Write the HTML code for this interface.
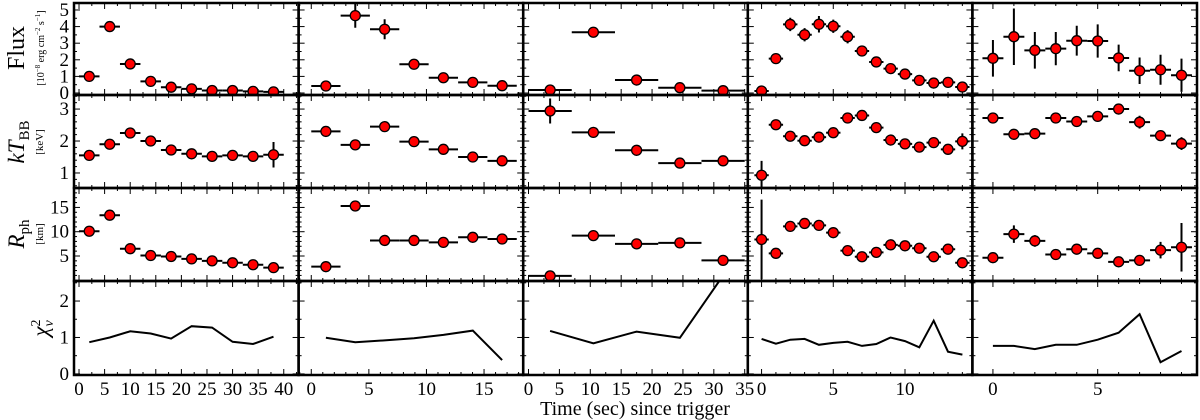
<!DOCTYPE html>
<html><head><meta charset="utf-8"><style>
body{margin:0;background:#fff}
svg{display:block}
text{font-family:"Liberation Serif","DejaVu Serif",serif}
</style></head><body>
<svg id="c" width="1200" height="420" viewBox="0 0 1200 420" xmlns="http://www.w3.org/2000/svg"></svg>
<script>
// ---- data ----
const col1Time=[2,6,10,14,18,22,26,30,34,38];
const col1Flux=[1.0,4.0,1.75,0.7,0.35,0.25,0.15,0.15,0.1,0.07];
const col1FluxErr=[0.05,0.1,0.08,0.05,0.04,0.03,0.03,0.03,0.03,0.03];
const col1kT=[1.55,1.9,2.25,2.0,1.72,1.6,1.52,1.55,1.52,1.57];
const col1kTErr=[0.05,0.05,0.05,0.05,0.05,0.06,0.06,0.08,0.08,0.4];
const col1R=[10.1,13.4,6.5,5.1,4.9,4.4,4.0,3.6,3.2,2.6];
const col1RErr=[0.3,0.3,0.2,0.2,0.2,0.2,0.2,0.2,0.3,0.3];
const col1Chi=[0.87,1.0,1.17,1.11,0.97,1.31,1.27,0.88,0.82,1.02];

const col2Time=[1.27,3.82,6.37,8.92,11.47,14.02,16.57];
const col2Flux=[0.42,4.66,3.84,1.73,0.92,0.64,0.44];
const col2FluxErr=[0.05,0.73,0.6,0.15,0.08,0.06,0.05];
const col2kT=[2.3,1.88,2.45,1.98,1.74,1.5,1.38];
const col2kTErr=[0.15,0.05,0.06,0.06,0.06,0.06,0.06];
const col2R=[2.8,15.3,8.2,8.2,7.8,8.85,8.5];
const col2RErr=[0.3,0.4,0.3,0.3,0.3,0.7,0.7];
const col2Chi=[0.99,0.87,0.92,0.98,1.07,1.19,0.38];

const col3Time=[3.5,10.5,17.5,24.5,31.5];
const col3Flux=[0.18,3.66,0.78,0.32,0.14];
const col3FluxErr=[0.05,0.2,0.05,0.05,0.05];
const col3kT=[2.94,2.27,1.71,1.31,1.38];
const col3kTErr=[0.39,0.05,0.05,0.05,0.07];
const col3R=[0.9,9.2,7.5,7.7,4.1];
const col3RErr=[0.3,0.4,0.3,0.6,0.9];
const col3Chi=[1.18,0.84,1.16,0.99,2.7];

const col4Time=[0,1,2,3,4,5,6,7,8,9,10,11,12,13,14];
const col4Flux=[0.12,2.07,4.13,3.51,4.14,4.02,3.39,2.53,1.87,1.47,1.14,0.76,0.6,0.64,0.36];
const col4FluxErr=[0.3,0.3,0.4,0.4,0.5,0.4,0.4,0.3,0.3,0.3,0.2,0.1,0.08,0.1,0.2];
const col4kT=[0.93,2.51,2.15,2.01,2.12,2.26,2.72,2.8,2.42,2.03,1.91,1.81,1.95,1.74,1.99];
const col4kTErr=[0.45,0.05,0.06,0.06,0.06,0.06,0.06,0.06,0.06,0.06,0.06,0.06,0.06,0.06,0.25];
const col4R=[8.4,5.55,11.1,11.7,11.3,9.8,6.1,4.85,5.75,7.3,7.1,6.6,4.85,6.4,3.6];
const col4RErr=[8.2,0.3,0.4,0.4,0.4,0.3,0.3,0.3,0.3,0.4,0.4,0.4,0.3,0.6,0.8];
const col4Chi=[0.96,0.83,0.94,0.96,0.8,0.85,0.88,0.77,0.82,1.0,0.9,0.73,1.46,0.61,0.53];

const col5Time=[0,1,2,3,4,5,6,7,8,9];
const col5Flux=[2.09,3.39,2.57,2.67,3.15,3.13,2.11,1.34,1.4,1.07];
const col5FluxErr=[1.1,1.7,1.1,1.0,0.9,1.0,0.8,0.8,0.9,1.0];
const col5kT=[2.72,2.21,2.23,2.72,2.61,2.77,3.0,2.59,2.17,1.92];
const col5kTErr=[0.12,0.06,0.06,0.08,0.08,0.08,0.15,0.2,0.15,0.2];
const col5R=[4.65,9.5,8.1,5.3,6.4,5.55,3.8,4.1,6.2,6.8];
const col5RErr=[0.5,1.8,1.2,0.4,0.6,0.4,0.4,0.9,1.7,5.0];
const col5Chi=[0.77,0.77,0.68,0.8,0.8,0.94,1.13,1.64,0.32,0.63];

const colHalfWidth=[2,1.27,3.5,0.5,0.5];
const colXRange=[[-0.98,42.9],[-1.1,18.4],[-0.86,35.5],[-0.96,14.7],[-0.98,9.74]];
const colXTicks=[[0,5,10,15,20,25,30,35,40],[0,5,10,15],[0,5,10,15,20,25,30,35],[0,5,10],[0,5]];
const colXMinor=[2.5,1,2.5,1,1];
const rowYRange=[[-0.12,5.42],[0.53,3.44],[-0.15,19.0],[-0.03,2.55]];
const rowYTicks=[[0,1,2,3,4,5],[1,2,3],[5,10,15],[0,1,2]];
const rowYMinor=[0.5,0.2,1,0.5];

const cols=[
 {t:col1Time,f:col1Flux,fe:col1FluxErr,k:col1kT,ke:col1kTErr,r:col1R,re:col1RErr,c:col1Chi},
 {t:col2Time,f:col2Flux,fe:col2FluxErr,k:col2kT,ke:col2kTErr,r:col2R,re:col2RErr,c:col2Chi},
 {t:col3Time,f:col3Flux,fe:col3FluxErr,k:col3kT,ke:col3kTErr,r:col3R,re:col3RErr,c:col3Chi},
 {t:col4Time,f:col4Flux,fe:col4FluxErr,k:col4kT,ke:col4kTErr,r:col4R,re:col4RErr,c:col4Chi},
 {t:col5Time,f:col5Flux,fe:col5FluxErr,k:col5kT,ke:col5kTErr,r:col5R,re:col5RErr,c:col5Chi}
];

// ---- layout ----
const NS="http://www.w3.org/2000/svg";
const svg=document.getElementById('c');
const L=74,W=224.6,rowTops=[3,95,188,281,375];
const SERIF="font-family:'Liberation Serif','DejaVu Serif',serif";
function mk(tag,attrs,parent){const e=document.createElementNS(NS,tag);for(const k in attrs)e.setAttribute(k,attrs[k]);(parent||svg).appendChild(e);return e;}
function xs(ci,v){const r=colXRange[ci],x0=L+ci*W;return x0+(v-r[0])/(r[1]-r[0])*W;}
function ys(ri,v){const r=rowYRange[ri],t=rowTops[ri],b=rowTops[ri+1];return b-(v-r[0])/(r[1]-r[0])*(b-t);}

const defs=mk('defs',{});
for(let ci=0;ci<5;ci++)for(let ri=0;ri<4;ri++){
  const cp=mk('clipPath',{id:'cp'+ci+'_'+ri},defs);
  mk('rect',{x:L+ci*W,y:rowTops[ri],width:W,height:rowTops[ri+1]-rowTops[ri]},cp);
}

for(let ci=0;ci<5;ci++){
  const x0=L+ci*W,x1=x0+W;
  for(let ri=0;ri<4;ri++){
    const y0=rowTops[ri],y1=rowTops[ri+1];
    const g=mk('g',{});
    
    
    const xr=colXRange[ci];
    for(let v=Math.ceil(xr[0]/colXMinor[ci])*colXMinor[ci];v<=xr[1];v+=colXMinor[ci]){
      const major=Math.abs(v/5-Math.round(v/5))<1e-6;const len=major?6:3;const x=xs(ci,v);
      mk('line',{x1:x,x2:x,y1:y1,y2:y1-len,stroke:'#000','stroke-width':1},g);
      mk('line',{x1:x,x2:x,y1:y0,y2:y0+len,stroke:'#000','stroke-width':1},g);
    }
    const yr=rowYRange[ri];const mn=rowYMinor[ri];
    for(let v=Math.ceil(yr[0]/mn)*mn;v<=yr[1];v+=mn){
      const major=rowYTicks[ri].some(t=>Math.abs(t-v)<1e-6);const len=major?6:3;const y=ys(ri,v);
      mk('line',{x1:x0,x2:x0+len,y1:y,y2:y,stroke:'#000','stroke-width':1},g);
      mk('line',{x1:x1,x2:x1-len,y1:y,y2:y,stroke:'#000','stroke-width':1},g);
    }
    const d=cols[ci];const clip='url(#cp'+ci+'_'+ri+')';const dg=mk('g',{'clip-path':clip},g);
    if(ri<3){
      const vals=ri===0?d.f:ri===1?d.k:d.r;const errs=ri===0?d.fe:ri===1?d.ke:d.re;
      for(let i=0;i<d.t.length;i++){
        const cx=xs(ci,d.t[i]),cy=ys(ri,vals[i]);
        const hx1=xs(ci,d.t[i]-colHalfWidth[ci]),hx2=xs(ci,d.t[i]+colHalfWidth[ci]);
        const eh=mk('line',{x1:hx1,x2:hx2,y1:cy,y2:cy,stroke:'#000','stroke-width':2},dg);
        
        
        const ev=mk('line',{x1:cx,x2:cx,y1:ys(ri,vals[i]-errs[i]),y2:ys(ri,vals[i]+errs[i]),stroke:'#000','stroke-width':2},dg);
        
        
        const p=mk('circle',{cx:cx,cy:cy,r:5,fill:'#f00',stroke:'#000','stroke-width':1.3},dg);
        
        
      }
    } else {
      const pts=d.t.map((t,i)=>xs(ci,t).toFixed(1)+','+ys(ri,d.c[i]).toFixed(1)).join(' ');
      const pl=mk('polyline',{points:pts,fill:'none',stroke:'#000','stroke-width':2},dg);
      
      
    }
    const fr=mk('rect',{x:x0,y:y0,width:W,height:y1-y0,fill:'none',stroke:'#000','stroke-width':2.5},g);
    
    
  }
  for(const v of colXTicks[ci]){
    const t=mk('text',{x:xs(ci,v),y:395,'font-size':19,'text-anchor':'middle',style:SERIF});
    t.textContent=v;
    
    
  }
}
for(let ri=0;ri<4;ri++){
  for(const v of rowYTicks[ri]){
    const t=mk('text',{x:69,y:ys(ri,v)+6,'font-size':19,'text-anchor':'end',style:SERIF});
    t.textContent=v;
    
    
  }
}
</script>
<svg width="1200" height="420" style="position:absolute;left:0;top:0;pointer-events:none" xmlns="http://www.w3.org/2000/svg">
 <g style="font-family:'Liberation Serif','DejaVu Serif',serif">
  <text transform="translate(24,48) rotate(-90)" font-size="24" text-anchor="middle">Flux</text>
  <text transform="translate(44,48) rotate(-90)" font-size="10" text-anchor="middle">[10<tspan baseline-shift="super" font-size="7">−8</tspan> erg cm<tspan baseline-shift="super" font-size="7">−2</tspan> s<tspan baseline-shift="super" font-size="7">−1</tspan>]</text>
  <text transform="translate(24,142) rotate(-90)" font-size="23" text-anchor="middle"><tspan font-style="italic">kT</tspan><tspan font-size="15" dy="5">BB</tspan></text>
  <text transform="translate(43,142) rotate(-90)" font-size="11" text-anchor="middle">[keV]</text>
  <text transform="translate(24,234) rotate(-90)" font-size="23" text-anchor="middle"><tspan font-style="italic">R</tspan><tspan font-size="15" dy="5">ph</tspan></text>
  <text transform="translate(43,234) rotate(-90)" font-size="11" text-anchor="middle">[km]</text>
  <text transform="translate(48,328) rotate(-90)" font-size="23" text-anchor="middle"><tspan font-style="italic">χ</tspan><tspan font-size="14" dy="-8">2</tspan><tspan font-size="14" dx="-7" dy="13" font-style="italic">ν</tspan></text>
  <text x="635" y="415" font-size="20" text-anchor="middle">Time (sec) since trigger</text>
 </g>
</svg>
</body></html>
